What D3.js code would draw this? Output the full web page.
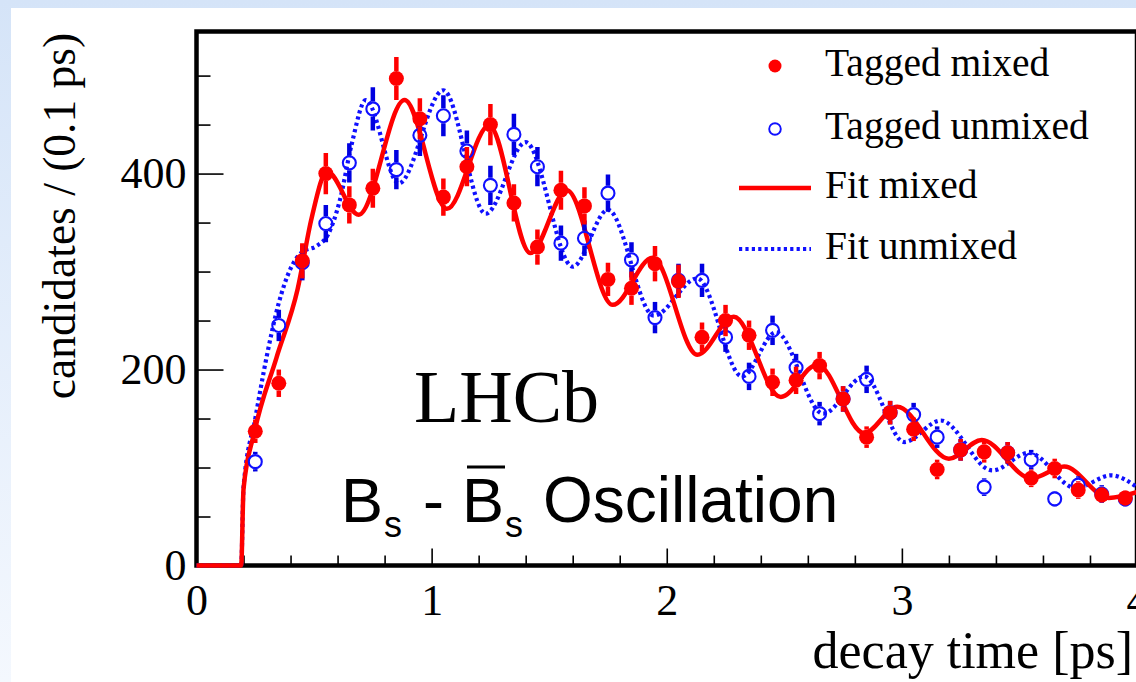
<!DOCTYPE html>
<html><head><meta charset="utf-8">
<script src="https://cdn.jsdelivr.net/npm/d3@7"></script>
<style>html,body{margin:0;padding:0;background:#fff;}svg{display:block;}</style>
</head><body>
<svg id="c" width="1136" height="682"></svg>
<script>
// ---- data ----
const binCenters = [0.25,0.35,0.45,0.55,0.65,0.75,0.85,0.95,1.05,1.15,1.25,1.35,1.45,1.55,1.65,1.75,1.85,1.95,2.05,2.15,2.25,2.35,2.45,2.55,2.65,2.75,2.85,2.95,3.05,3.15,3.25,3.35,3.45,3.55,3.65,3.75,3.85,3.95];
const mixedVals   = [137,186,311,400,368,385,497,456,376,407,450,370,325,383,367,292,283,308,290,233,250,235,187,189,204,170,131,156,139,98,118,116,115,89,99,77,72,69];
const mixedErr    = [12,14,18,21,19,20,22,21,19,20,21,19,18,20,19,17,17,18,17,15,16,15,14,14,14,13,11,12,12,10,11,11,11,9,10,9,8,8];
const unmixedVals = [106,245,309,349,411,466,404,439,459,423,388,440,407,329,334,380,312,253,291,291,233,193,240,202,155,170,190,156,154,131,118,80,115,108,68,82,73,68];
const unmixedErr  = [10,16,18,19,20,22,20,21,21,21,20,21,20,18,18,19,18,16,17,17,15,14,15,14,12,13,14,12,12,11,11,9,11,10,8,9,9,8];

// fit curves: nodes (turn-on, then peaks and troughs)
const fitMixedT = [0,0.19,0.2,0.245,0.34,0.43,0.49,0.555,0.69,0.885,1.065,1.245,1.42,1.575,1.77,1.94,2.13,2.285,2.485,2.64,2.84,2.98,3.2,3.34,3.55,3.69,3.88,4.0];
const fitMixedV = [0,0,78,135,212,282,355,402,358,475,364,449,319,383,266,314,215,254,172,205,135,162,109,128,89,101,69,75];
const fitUnmixedT = [0,0.19,0.2,0.25,0.3,0.35,0.4,0.45,0.51,0.56,0.61,0.66,0.72,0.86,1.05,1.23,1.40,1.60,1.75,1.945,2.13,2.32,2.465,2.665,2.84,3.01,3.165,3.385,3.54,3.74,3.89,4.0];
const fitUnmixedV = [0,0,80,150,215,268,303,320,326,338,373,430,475,390,485,359,432,305,363,255,293,193,238,155,193,126,148,97,115,79,92,80];

const xTicksMajor = [0,1,2,3,4];
const xTicksMinor = [0.2,0.4,0.6,0.8,1.2,1.4,1.6,1.8,2.2,2.4,2.6,2.8,3.2,3.4,3.6,3.8];
const yTicksMajor = [0,200,400];
const yTicksMinor = [50,100,150,250,300,350,450,500];

const legendLabels = ["Tagged mixed","Tagged unmixed","Fit mixed","Fit unmixed"];

// ---- drawing ----
const RED = "#ff0000", BLUE = "#1010ff", BLUE_BAR = "#0000e0";
const svg = d3.select("#c");
const defs = svg.append("defs");
const grad = defs.append("linearGradient").attr("id","bg").attr("x1",0).attr("y1",0).attr("x2",0).attr("y2",1);
grad.append("stop").attr("offset","0%").attr("stop-color","#d5e4f8");
grad.append("stop").attr("offset","100%").attr("stop-color","#f4f8fe");
svg.append("rect").attr("width",1136).attr("height",682).attr("fill","url(#bg)");
svg.append("rect").attr("x",11).attr("y",8).attr("width",1125).attr("height",674).attr("fill","#fff");

const x = d3.scaleLinear().domain([0,4]).range([196.5,1137]);
const y = d3.scaleLinear().domain([0,545]).range([565.5,31.5]);

const serif = "'Liberation Serif','Times New Roman',serif";
const sans = "'Liberation Sans',Arial,sans-serif";

// frame
svg.append("rect").attr("x",x(0)).attr("y",y(545)).attr("width",x(4)-x(0)).attr("height",y(0)-y(545))
  .attr("fill","none").attr("stroke","#000").attr("stroke-width",4.5);

function styleAxis(g){
  g.select(".domain").remove();
  g.selectAll("line").attr("stroke","#000").attr("stroke-width",1.6);
  g.selectAll("text").attr("font-family",serif).attr("font-size",44).attr("fill","#000");
}
svg.append("g").attr("transform",`translate(${x(0)},0)`)
  .call(d3.axisLeft(y).tickValues(yTicksMajor).tickSizeInner(-27).tickSizeOuter(0).tickPadding(10).tickFormat(d3.format("d")))
  .call(styleAxis);
svg.append("g").attr("transform",`translate(${x(0)},0)`)
  .call(d3.axisLeft(y).tickValues(yTicksMinor).tickSizeInner(-14).tickSizeOuter(0).tickFormat(""))
  .call(styleAxis);
svg.append("g").attr("transform",`translate(0,${y(0)})`)
  .call(d3.axisBottom(x).tickValues(xTicksMajor).tickSizeInner(-17).tickSizeOuter(0).tickPadding(18.5).tickFormat(d3.format("d")))
  .call(styleAxis);
svg.append("g").attr("transform",`translate(0,${y(0)})`)
  .call(d3.axisBottom(x).tickValues(xTicksMinor).tickSizeInner(-10).tickSizeOuter(0).tickFormat(""))
  .call(styleAxis);

// axis titles
svg.append("text").attr("transform",`translate(75,216) rotate(-90)`).attr("text-anchor","middle")
  .attr("font-family",serif).attr("font-size",45.5).text("candidates / (0.1 ps)");
svg.append("text").attr("x",1133).attr("y",668).attr("text-anchor","end")
  .attr("font-family",serif).attr("font-size",52).text("decay time [ps]");

// fit curves
const clip = defs.append("clipPath").attr("id","plotclip");
clip.append("rect").attr("x",x(0)-3).attr("y",y(545)).attr("width",x(4)-x(0)+3).attr("height",y(0)-y(545)+3);
const line = d3.line().x(d=>x(d[0])).y(d=>y(d[1])).curve(d3.curveMonotoneX);
const plot = svg.append("g").attr("clip-path","url(#plotclip)");
plot.append("path").attr("d",line(fitUnmixedT.map((t,i)=>[t,fitUnmixedV[i]])))
  .attr("fill","none").attr("stroke",BLUE).attr("stroke-width",4.2).attr("stroke-dasharray","3.2,3.2");
plot.append("path").attr("d",line(fitMixedT.map((t,i)=>[t,fitMixedV[i]])))
  .attr("fill","none").attr("stroke",RED).attr("stroke-width",4.5);

// data points
const R = 7.5;
function drawPoints(vals, errs, color, barColor, filled){
  const g = plot.append("g");
  const data = binCenters.map((t,i)=>({t, v:vals[i], e:errs[i]}));
  g.selectAll("line.up").data(data).join("line").attr("class","up")
    .attr("x1",d=>x(d.t)).attr("x2",d=>x(d.t))
    .attr("y1",d=>y(d.v+d.e)).attr("y2",d=>Math.max(y(d.v)-R, y(d.v+d.e)))
    .attr("stroke",barColor).attr("stroke-width",4.5);
  g.selectAll("line.dn").data(data).join("line").attr("class","dn")
    .attr("x1",d=>x(d.t)).attr("x2",d=>x(d.t))
    .attr("y1",d=>Math.min(y(d.v)+R, y(d.v-d.e))).attr("y2",d=>y(d.v-d.e))
    .attr("stroke",barColor).attr("stroke-width",4.5);
  g.selectAll("circle").data(data).join("circle")
    .attr("cx",d=>x(d.t)).attr("cy",d=>y(d.v)).attr("r",filled?R:R-1)
    .attr("fill",filled?color:"none").attr("stroke",color).attr("stroke-width",filled?0:2.1);
}
drawPoints(unmixedVals, unmixedErr, BLUE, BLUE_BAR, false);
drawPoints(mixedVals, mixedErr, RED, RED, true);

// legend
const legY = [66,129,188,249];
const lg = svg.append("g");
lg.append("circle").attr("cx",775).attr("cy",legY[0]).attr("r",6.5).attr("fill",RED);
lg.append("circle").attr("cx",775).attr("cy",legY[1]).attr("r",5.8).attr("fill","none").attr("stroke",BLUE).attr("stroke-width",1.9);
lg.append("line").attr("x1",739).attr("x2",811).attr("y1",legY[2]).attr("y2",legY[2]).attr("stroke",RED).attr("stroke-width",4.5);
lg.append("line").attr("x1",739).attr("x2",811).attr("y1",legY[3]).attr("y2",legY[3]).attr("stroke",BLUE).attr("stroke-width",4).attr("stroke-dasharray","3.2,3.2");
lg.selectAll("text").data(legendLabels).join("text")
  .attr("x",825).attr("y",(d,i)=>legY[i]+9.5)
  .attr("font-family",serif).attr("font-size",39.5).text(d=>d);

// annotations
svg.append("text").attr("x",414).attr("y",422).attr("font-family",serif).attr("font-size",74).text("LHCb");
const ann = svg.append("g").attr("font-family",sans).attr("fill","#000");
ann.append("text").attr("x",341).attr("y",522).attr("font-size",63).text("B");
ann.append("text").attr("x",384).attr("y",537).attr("font-size",36).text("s");
ann.append("text").attr("x",423).attr("y",522).attr("font-size",63).text("-");
ann.append("text").attr("x",462).attr("y",522).attr("font-size",63).text("B");
ann.append("line").attr("x1",467).attr("x2",505).attr("y1",467).attr("y2",467).attr("stroke","#000").attr("stroke-width",3.2);
ann.append("text").attr("x",505).attr("y",537).attr("font-size",36).text("s");
ann.append("text").attr("x",543).attr("y",522).attr("font-size",64).text("Oscillation");
</script>
</body></html>
